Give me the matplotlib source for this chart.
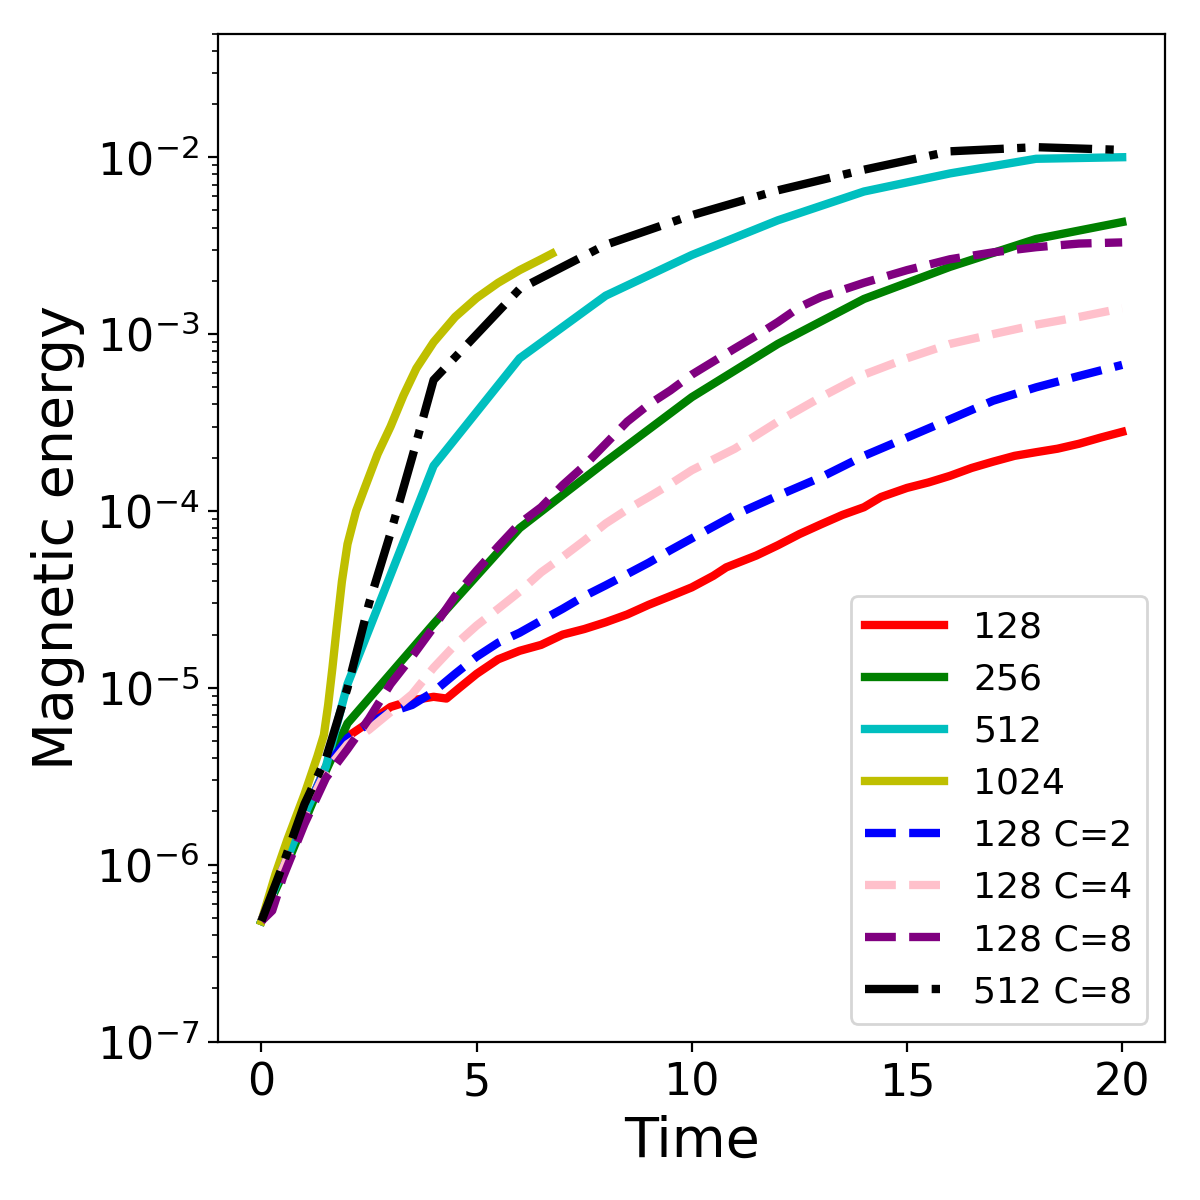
import matplotlib
matplotlib.use("Agg")
import matplotlib.pyplot as plt

# ------------------------------------------------------------
# Magnetic energy growth vs time for different resolutions
# ------------------------------------------------------------

# 128 (finely sampled)
t_128 = [0, 0.5, 1.0, 1.5, 2.0, 2.5, 3.0, 3.5, 4.0, 4.3, 4.6, 5.0, 5.5, 6.0,
         6.5, 7.0, 7.5, 8.0, 8.5, 9.0, 9.5, 10.0, 10.5, 10.8, 11.5, 12.0,
         12.5, 13.0, 13.5, 14.0, 14.4, 15.0, 15.5, 16.0, 16.5, 17.0, 17.5,
         18.0, 18.5, 19.0, 19.5, 20.0]
e_128 = [4.8e-7, 9.5e-7, 1.9e-6, 3.6e-6, 5.3e-6, 6.4e-6, 7.8e-6, 8.5e-6,
         8.9e-6, 8.7e-6, 1.0e-5, 1.2e-5, 1.45e-5, 1.62e-5, 1.75e-5, 2.0e-5,
         2.15e-5, 2.35e-5, 2.6e-5, 2.95e-5, 3.3e-5, 3.7e-5, 4.3e-5, 4.8e-5,
         5.6e-5, 6.4e-5, 7.4e-5, 8.4e-5, 9.5e-5, 1.05e-4, 1.2e-4, 1.35e-4,
         1.45e-4, 1.58e-4, 1.75e-4, 1.9e-4, 2.05e-4, 2.15e-4, 2.25e-4,
         2.4e-4, 2.6e-4, 2.8e-4]

# 256
t_256 = [0, 0.5, 1.0, 1.5, 2.0, 4.0, 6.0, 8.0, 10.0, 12.0, 14.0, 16.0, 18.0, 20.0]
e_256 = [4.8e-7, 8.9e-7, 1.75e-6, 3.4e-6, 6.3e-6, 2.3e-5, 8.0e-5, 1.9e-4,
         4.4e-4, 8.8e-4, 1.58e-3, 2.4e-3, 3.45e-3, 4.3e-3]

# 512
t_512 = [0, 0.5, 1.0, 1.5, 2.0, 4.0, 6.0, 8.0, 10.0, 12.0, 14.0, 16.0, 18.0, 20.0]
e_512 = [4.8e-7, 9.5e-7, 1.9e-6, 3.6e-6, 1.05e-5, 1.8e-4, 7.3e-4, 1.65e-3,
         2.8e-3, 4.4e-3, 6.4e-3, 8.1e-3, 9.8e-3, 1.0e-2]

# 1024
t_1024 = [0, 0.33, 0.6, 1.0, 1.3, 1.45, 1.55, 1.65, 1.75, 1.87, 2.0, 2.2,
          2.4, 2.7, 3.0, 3.3, 3.6, 4.0, 4.5, 5.0, 5.5, 6.0, 6.5, 6.75]
e_1024 = [4.8e-7, 8.9e-7, 1.38e-6, 2.5e-6, 4.1e-6, 5.4e-6, 8.0e-6, 1.3e-5,
          2.2e-5, 4.0e-5, 6.5e-5, 1.0e-4, 1.35e-4, 2.1e-4, 3.0e-4, 4.5e-4,
          6.4e-4, 9.0e-4, 1.25e-3, 1.6e-3, 1.95e-3, 2.3e-3, 2.65e-3, 2.85e-3]

# 128 C=2
t_c2 = [0, 0.5, 1.0, 1.5, 2.0, 2.5, 3.0, 3.5, 4.0, 4.5, 5.0, 5.5, 6.0, 6.5,
        7.0, 7.5, 8.0, 8.5, 9.0, 9.5, 10, 11, 12, 13, 14, 15, 16, 17, 18, 19, 20]
e_c2 = [4.8e-7, 9.5e-7, 1.9e-6, 3.5e-6, 5.2e-6, 6.3e-6, 7.3e-6, 8.0e-6,
        9.5e-6, 1.2e-5, 1.5e-5, 1.8e-5, 2.05e-5, 2.4e-5, 2.8e-5, 3.3e-5,
        3.8e-5, 4.4e-5, 5.1e-5, 6.0e-5, 7.0e-5, 9.5e-5, 1.22e-4, 1.55e-4,
        2.05e-4, 2.6e-4, 3.3e-4, 4.2e-4, 5.0e-4, 5.8e-4, 6.7e-4]

# 128 C=4
t_c4 = [0, 0.5, 1.0, 1.5, 2.0, 2.5, 3.0, 3.5, 4.0, 4.5, 5.0, 5.5, 6.0, 6.5,
        7.0, 7.5, 8.0, 8.5, 9.0, 9.5, 10, 11, 12, 13, 14, 15, 16, 17, 18, 19, 20]
e_c4 = [4.8e-7, 9.5e-7, 1.9e-6, 3.4e-6, 4.8e-6, 5.8e-6, 7.3e-6, 9.2e-6,
        1.3e-5, 1.75e-5, 2.25e-5, 2.8e-5, 3.5e-5, 4.5e-5, 5.5e-5, 6.8e-5,
        8.5e-5, 1.02e-4, 1.2e-4, 1.42e-4, 1.7e-4, 2.25e-4, 3.2e-4, 4.4e-4,
        5.9e-4, 7.3e-4, 8.8e-4, 1.0e-3, 1.13e-3, 1.25e-3, 1.4e-3]

# 128 C=8
t_c8 = [0, 0.25, 0.5, 1.0, 1.5, 2.0, 2.5, 3.0, 3.5, 4.0, 4.5, 5.0, 5.5, 6.0,
        6.5, 7.0, 7.5, 8.0, 8.5, 9.0, 9.5, 10, 10.5, 11, 11.5, 12, 12.5, 13,
        14, 15, 16, 17, 18, 19, 20]
e_c8 = [4.8e-7, 5.5e-7, 8.5e-7, 1.7e-6, 3.1e-6, 4.5e-6, 6.7e-6, 1.05e-5,
        1.5e-5, 2.2e-5, 3.3e-5, 4.6e-5, 6.3e-5, 8.5e-5, 1.05e-4, 1.4e-4,
        1.8e-4, 2.4e-4, 3.2e-4, 4.0e-4, 4.8e-4, 5.9e-4, 7.0e-4, 8.3e-4,
        9.8e-4, 1.17e-3, 1.42e-3, 1.62e-3, 1.95e-3, 2.3e-3, 2.65e-3, 2.9e-3,
        3.1e-3, 3.25e-3, 3.3e-3]

# 512 C=8
t_512c8 = [0, 0.5, 1.0, 1.5, 2.0, 2.5, 3.0, 3.5, 4.0, 6.0, 8.0, 10.0, 12.0,
           14.0, 16.0, 18.0, 20.0]
e_512c8 = [4.8e-7, 1.0e-6, 2.2e-6, 4.0e-6, 1.0e-5, 3.0e-5, 7.5e-5, 2.0e-4,
           5.5e-4, 1.8e-3, 3.2e-3, 4.7e-3, 6.5e-3, 8.5e-3, 1.08e-2, 1.14e-2,
           1.1e-2]

fig = plt.figure(figsize=(6, 6), dpi=200)
ax = fig.add_axes([0.182, 0.132, 0.789, 0.840])

ax.plot(t_128, e_128, color="r", linewidth=3, label="128")
ax.plot(t_256, e_256, color="g", linewidth=3, label="256")
ax.plot(t_512, e_512, color="c", linewidth=3, label="512")
ax.plot(t_1024, e_1024, color="y", linewidth=3, label="1024")
ax.plot(t_c2, e_c2, color="b", linestyle="--", linewidth=3, label="128 C=2")
ax.plot(t_c4, e_c4, color="pink", linestyle="--", linewidth=3, label="128 C=4")
ax.plot(t_c8, e_c8, color="purple", linestyle="--", linewidth=3, label="128 C=8")
ax.plot(t_512c8, e_512c8, color="k", linestyle="-.", linewidth=3, label="512 C=8")

ax.set_yscale("log")
ax.set_ylim(1e-7, 5e-2)
ax.set_xticks([0, 5, 10, 15, 20])
ax.tick_params(labelsize=16)
ax.set_xlabel("Time", fontsize=20)
ax.set_ylabel("Magnetic energy", fontsize=20)
ax.legend(loc="lower right", fontsize=13, handlelength=2.2)

fig.savefig("out.png", dpi=200)
